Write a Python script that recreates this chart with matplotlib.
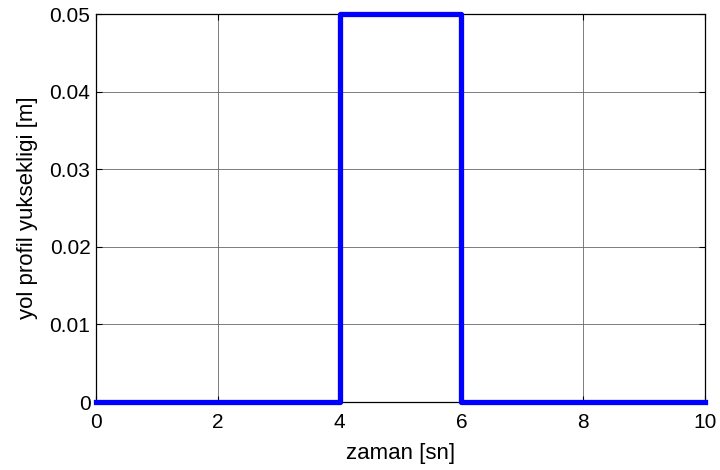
import matplotlib
matplotlib.use('Agg')
import matplotlib.pyplot as plt

# road profile: step bump between 4 and 6 s
zaman = [0, 4, 4, 6, 6, 10]
yukseklik = [0, 0, 0.05, 0.05, 0, 0]
xticks = [0, 2, 4, 6, 8, 10]
yticks = [0, 0.01, 0.02, 0.03, 0.04, 0.05]
ytick_labels = ['0', '0.01', '0.02', '0.03', '0.04', '0.05']

plt.rcParams['font.family'] = ['Liberation Sans', 'DejaVu Sans']
plt.rcParams['font.size'] = 15

fig = plt.figure(figsize=(7.2, 4.7), dpi=100)
ax = fig.add_axes([96 / 720, 1 - 402 / 470, (705 - 96) / 720, (402 - 14) / 470])

ax.plot(zaman, yukseklik, color='#0000ff', linewidth=3.8, clip_on=False, zorder=3)

ax.set_xlim(0, 10)
ax.set_ylim(0, 0.05)
ax.set_xticks(xticks)
ax.set_yticks(yticks)
ax.set_yticklabels(ytick_labels)
ax.grid(True, color='#666666', linewidth=0.6)
ax.set_axisbelow(True)
ax.tick_params(direction='in', length=4, width=0.8, top=True, right=True)
ax.tick_params(axis='x', pad=8)
ax.tick_params(axis='y', pad=4)
for s in ax.spines.values():
    s.set_linewidth(0.9)

ax.set_xlabel('zaman [sn]', fontsize=16, labelpad=8)
ax.set_ylabel('yol profil yuksekligi [m]', fontsize=16, labelpad=8)

fig.savefig('out.png', dpi=100)
